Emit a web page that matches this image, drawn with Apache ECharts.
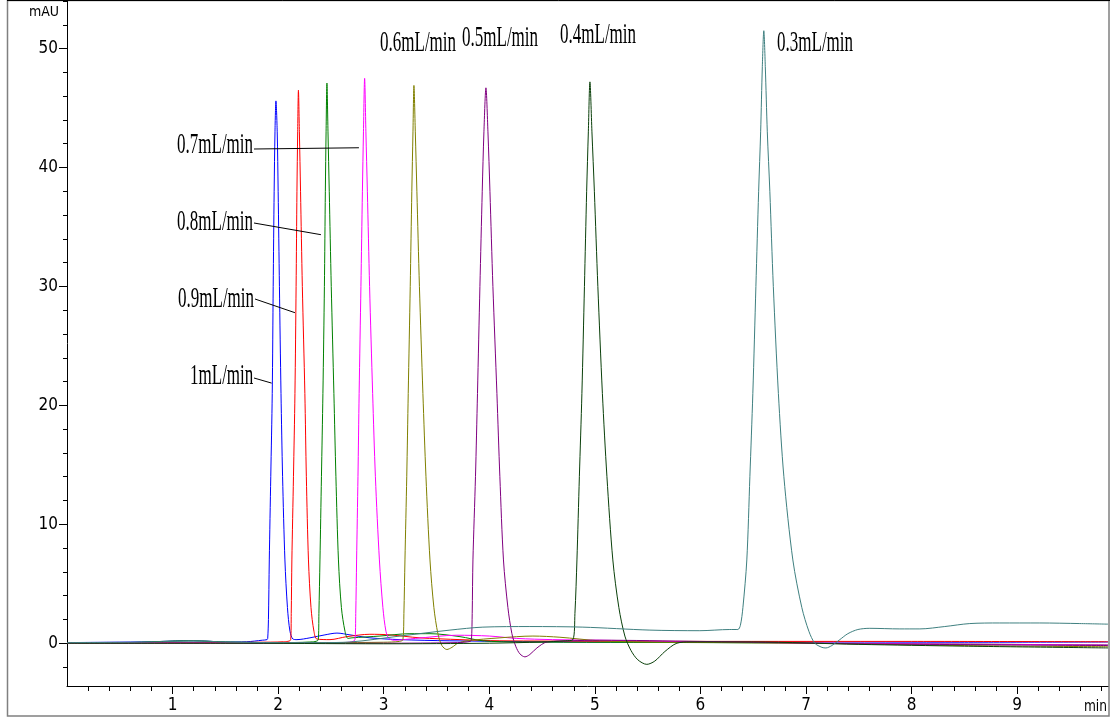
<!DOCTYPE html>
<html>
<head>
<meta charset="utf-8">
<script src="https://cdn.jsdelivr.net/npm/echarts@6.0.0/dist/echarts.min.js"></script>
<style>
  html, body { margin: 0; padding: 0; background: #fff; }
  #chart { width: 1114px; height: 719px; }
</style>
</head>
<body>
<div id="chart"></div>
<script>
// Retention time (min) vs detector response (mAU) at different flow rates.
const flowLabels = ['1mL/min', '0.9mL/min', '0.8mL/min', '0.7mL/min', '0.6mL/min', '0.5mL/min', '0.4mL/min', '0.3mL/min'];
const traceColors = ['#0000ff', '#ff0000', '#008000', '#ff00ff', '#808000', '#800080', '#0a400a', '#3f8080'];

const trace10 = [
  [0, 0.05], [0.4, 0.08], [0.8, 0.12], [1.1, 0.2], [1.3, 0.18], [1.5, 0.1], [1.7, 0.12], [1.85, 0.25], [1.895, 0.3],
  [1.901, 0.4], [1.908, 2], [1.916, 7], [1.930, 14], [1.944, 21], [1.953, 30], [1.962, 38], [1.970, 43], [1.979, 45.6],
  [1.991, 43], [2.000, 38], [2.012, 30], [2.027, 21], [2.042, 14], [2.064, 7], [2.088, 3], [2.112, 1], [2.140, 0.35],
  [2.178, 0.3], [2.301, 0.45], [2.443, 0.7], [2.557, 0.85], [2.680, 0.7], [2.869, 0.45], [3.153, 0.3], [3.627, 0.2],
  [5.0, 0.1], [7.0, 0.1], [8.5, 0.08], [9.86, 0.1]
];
const trace09 = [
  [0, 0], [0.5, 0.02], [1.0, 0.05], [1.5, 0.05], [1.8, 0.08], [2.05, 0.12], [2.119, 0.3],
  [2.124, 2.5], [2.130, 7], [2.145, 14], [2.159, 21], [2.170, 30], [2.178, 38], [2.185, 43], [2.192, 46.5],
  [2.201, 43], [2.212, 38], [2.229, 30], [2.253, 21], [2.267, 14], [2.287, 7], [2.311, 3], [2.339, 1], [2.367, 0.35],
  [2.491, 0.3], [2.65, 0.55], [2.869, 0.75], [3.059, 0.7], [3.343, 0.45], [3.722, 0.3], [4.100, 0.2],
  [6.0, 0.15], [8.0, 0.15], [9.86, 0.12]
];
const trace08 = [
  [0, 0], [0.6, 0.05], [1.0, 0.18], [1.2, 0.2], [1.5, 0.1], [2.0, 0.05], [2.3, 0.1], [2.380, 0.3],
  [2.386, 2.5], [2.396, 7], [2.410, 14], [2.424, 21], [2.438, 30], [2.447, 38], [2.454, 43], [2.462, 47.1],
  [2.472, 43], [2.484, 38], [2.503, 30], [2.528, 21], [2.547, 14], [2.571, 7], [2.599, 3], [2.633, 1], [2.661, 0.4],
  [2.699, 0.45], [2.964, 0.6], [3.248, 0.8], [3.438, 0.8], [3.722, 0.55], [3.939, 0.2], [4.290, 0.1],
  [6.0, 0.05], [8.0, -0.05], [9.86, -0.15]
];
const trace07 = [
  [0, 0], [1.0, 0.05], [2.0, 0.02], [2.6, 0.05], [2.727, 0.3],
  [2.735, 2.5], [2.743, 7], [2.756, 14], [2.767, 21], [2.784, 30], [2.798, 38], [2.808, 43], [2.819, 47.5],
  [2.831, 43], [2.845, 38], [2.866, 30], [2.895, 21], [2.921, 14], [2.959, 7], [2.992, 3], [3.021, 1], [3.049, 0.4],
  [3.10, 0.25], [3.30, 0.4], [3.69, 0.67], [4.0, 0.6], [4.26, 0.4], [4.6, 0.3], [5.047, 0.25],
  [6.0, 0.1], [8.0, -0.05], [9.86, -0.15]
];
const trace06 = [
  [0, 0], [1.5, 0.0], [2.5, 0.05], [3.0, 0.08], [3.15, 0.15], [3.182, 0.3],
  [3.191, 2.5], [3.201, 7], [3.218, 14], [3.232, 21], [3.251, 30], [3.266, 38], [3.277, 43], [3.286, 46.9],
  [3.299, 43], [3.314, 38], [3.338, 30], [3.371, 21], [3.400, 14], [3.438, 7], [3.475, 3], [3.513, 0.8],
  [3.551, -0.2], [3.598, -0.53], [3.646, -0.35], [3.703, 0], [3.788, 0.2],
  [4.100, 0.45], [4.413, 0.6], [4.669, 0.5], [5.047, 0.2], [5.521, 0.1], [7.0, 0.0], [8.5, -0.2], [9.86, -0.3]
];
const trace05 = [
  [0, 0], [1.5, 0.0], [3.0, 0.0], [3.7, 0.05], [3.82, 0.15], [3.831, 0.3],
  [3.838, 2.5], [3.845, 7], [3.869, 14], [3.888, 21], [3.911, 30], [3.933, 38], [3.949, 43], [3.968, 46.7],
  [3.987, 43], [4.006, 38], [4.034, 30], [4.072, 21], [4.100, 14], [4.134, 7], [4.176, 3], [4.214, 0.8],
  [4.252, -0.3], [4.290, -0.9], [4.337, -1.15], [4.384, -0.95], [4.451, -0.4], [4.545, 0.1],
  [4.763, 0.2], [5.047, 0.25], [5.994, 0.15], [7.5, -0.05], [9.86, -0.2]
];
const trace04 = [
  [0, 0], [1.5, 0.0], [3.0, -0.05], [4.0, 0.0], [4.5, 0.1], [4.72, 0.2], [4.792, 0.3],
  [4.811, 2.5], [4.830, 7], [4.853, 14], [4.877, 21], [4.901, 30], [4.922, 38], [4.938, 43], [4.953, 47.2],
  [4.972, 43], [4.995, 38], [5.028, 30], [5.071, 21], [5.114, 14], [5.170, 7], [5.227, 3], [5.284, 0.6],
  [5.341, -0.6], [5.407, -1.4], [5.492, -1.78], [5.568, -1.5], [5.663, -0.7], [5.777, 0], [5.900, 0.1],
  [6.5, 0.1], [7.5, -0.1], [8.5, -0.25], [9.86, -0.4]
];
const trace03 = [
  [0, 0.05], [0.6, 0.08], [1.0, 0.15], [1.2, 0.2], [1.5, 0.1], [2.0, 0.05], [2.4, 0.05], [2.68, 0.1],
  [3.153, 0.6], [3.627, 1.1], [3.939, 1.35], [4.384, 1.4], [4.886, 1.35], [5.521, 1.1], [5.994, 1.05],
  [6.278, 1.15], [6.354, 1.15],
  [6.378, 1.5], [6.402, 3], [6.439, 7], [6.468, 14], [6.496, 21], [6.525, 30], [6.551, 38], [6.570, 43],
  [6.586, 48.5], [6.600, 51.5],
  [6.614, 48.5], [6.633, 43], [6.657, 38], [6.690, 30], [6.738, 21], [6.790, 14], [6.875, 7], [6.960, 3],
  [7.027, 1], [7.083, 0], [7.150, -0.35], [7.188, -0.4], [7.244, -0.2], [7.320, 0.3], [7.396, 0.8],
  [7.491, 1.15], [7.604, 1.25], [7.888, 1.2], [8.078, 1.2], [8.314, 1.4], [8.551, 1.65], [8.835, 1.7],
  [9.214, 1.7], [9.593, 1.65], [9.86, 1.6]
];
const traces = [trace10, trace09, trace08, trace07, trace06, trace05, trace04, trace03];

// Axis ranges and tick values
const timeRange = [0, 9.86];
const signalRange = [-3.6, 54];
const timeLabelTicks = [1, 2, 3, 4, 5, 6, 7, 8, 9];
const signalLabelTicks = [0, 10, 20, 30, 40, 50];
const timeMinorStep = 0.2;
const signalMinorStep = 2;

const timeMinorTicks = [];
for (let k = 1; k * timeMinorStep < timeRange[1]; k++) timeMinorTicks.push(+(k * timeMinorStep).toFixed(2));
const signalMinorTicks = [];
for (let v = -2; v <= 54; v += signalMinorStep) signalMinorTicks.push(v);

// Label placement: text anchor in pixels, leader line end in data units
const sideLabels = [
  { text: '0.7mL/min', x: 177, y: 145, from: [254, 149], to: [2.765, 41.66] },
  { text: '0.8mL/min', x: 177, y: 222, from: [254, 223], to: [2.405, 34.35] },
  { text: '0.9mL/min', x: 178, y: 299, from: [255, 299], to: [2.159, 27.79] },
  { text: '1mL/min',   x: 190, y: 376, from: [254, 378], to: [1.938, 21.87] }
];
const topLabels = [
  { text: '0.6mL/min', x: 380, y: 43 },
  { text: '0.5mL/min', x: 462, y: 38 },
  { text: '0.4mL/min', x: 560, y: 35 },
  { text: '0.3mL/min', x: 777, y: 43 }
];

const axisFont = "'Liberation Sans Narrow', 'DejaVu Sans Condensed', 'Liberation Sans', sans-serif";
const labelFont = "'Liberation Serif', 'DejaVu Serif', serif";

const chart = echarts.init(document.getElementById('chart'), null, { renderer: 'canvas' });

const baseX = {
  type: 'value', min: timeRange[0], max: timeRange[1], position: 'bottom',
  splitLine: { show: false }
};
const baseY = {
  type: 'value', min: signalRange[0], max: signalRange[1], position: 'left',
  splitLine: { show: false }
};

chart.setOption({
  backgroundColor: '#ffffff',
  animation: false,
  grid: { left: 67, right: 6, top: 1, bottom: 33, containLabel: false },
  xAxis: [
    Object.assign({}, baseX, {
      axisLine: { show: true, onZero: false, lineStyle: { color: '#000', width: 1 } },
      axisTick: { show: true, length: 5, lineStyle: { color: '#000' }, customValues: timeMinorTicks },
      axisLabel: { show: false }
    }),
    Object.assign({}, baseX, {
      axisLine: { show: false, onZero: false },
      axisTick: { show: true, length: 8, lineStyle: { color: '#000' }, customValues: timeLabelTicks },
      axisLabel: { show: true, customValues: timeLabelTicks, margin: 11, color: '#000', fontSize: 17, fontFamily: axisFont }
    })
  ],
  yAxis: [
    Object.assign({}, baseY, {
      axisLine: { show: true, onZero: false, lineStyle: { color: '#000', width: 1 } },
      axisTick: { show: true, length: 4, lineStyle: { color: '#000' }, customValues: signalMinorTicks },
      axisLabel: { show: false }
    }),
    Object.assign({}, baseY, {
      axisLine: { show: false, onZero: false },
      axisTick: { show: true, length: 8, lineStyle: { color: '#000' }, customValues: signalLabelTicks },
      axisLabel: { show: true, customValues: signalLabelTicks, margin: 9, color: '#000', fontSize: 17, fontFamily: axisFont }
    })
  ],
  series: traces.map((d, i) => ({
    name: flowLabels[i],
    type: 'line',
    data: d,
    xAxisIndex: 0,
    yAxisIndex: 0,
    showSymbol: false,
    symbol: 'none',
    smooth: 0.3,
    lineStyle: { color: traceColors[i], width: 1 },
    itemStyle: { color: traceColors[i] },
    z: 2 + i
  }))
});

// Annotations: frame, unit captions, flow-rate labels with leader lines
const textEl = (text, x, y, opt) => ({
  type: 'text', x: x, y: y, z: 50,
  scaleX: opt.scaleX || 1,
  style: {
    text: text, fill: '#000',
    fontSize: opt.fontSize, fontFamily: opt.fontFamily,
    align: opt.align || 'left', textAlign: opt.align || 'left',
    verticalAlign: 'middle', textVerticalAlign: 'middle'
  }
});

const graphics = [
  { type: 'rect', z: 0, silent: true, shape: { x: 7.5, y: 0.5, width: 1101.5, height: 715.5 },
    style: { fill: 'none', stroke: '#808080', lineWidth: 1.5 } },
  { type: 'line', z: 1, silent: true, shape: { x1: 7, y1: 0.5, x2: 1110, y2: 0.5 },
    style: { stroke: '#000', lineWidth: 1 } },
  textEl('mAU', 59, 12, { fontSize: 14, fontFamily: axisFont, align: 'right' }),
  textEl('min', 1107, 707, { fontSize: 16, fontFamily: axisFont, align: 'right', scaleX: 0.85 })
];

const flowScale = 0.567;
sideLabels.forEach(l => {
  graphics.push(textEl(l.text, l.x, l.y, { fontSize: 30, fontFamily: labelFont, scaleX: flowScale }));
  const end = chart.convertToPixel({ xAxisIndex: 0, yAxisIndex: 0 }, l.to);
  graphics.push({ type: 'line', z: 40, silent: true,
    shape: { x1: l.from[0], y1: l.from[1], x2: end[0], y2: end[1] },
    style: { stroke: '#000', lineWidth: 1 } });
});
topLabels.forEach(l => {
  graphics.push(textEl(l.text, l.x, l.y, { fontSize: 30, fontFamily: labelFont, scaleX: flowScale }));
});

chart.setOption({ graphic: { elements: graphics } });
</script>
</body>
</html>
